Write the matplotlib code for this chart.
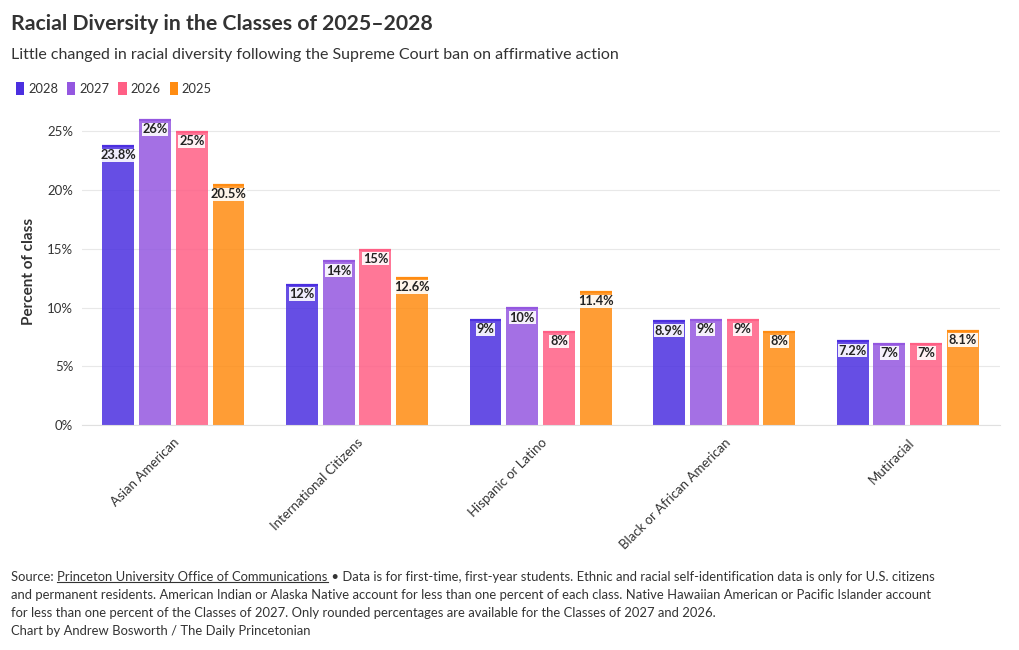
import matplotlib.pyplot as plt
import numpy as np
from matplotlib.patches import Patch
from matplotlib.lines import Line2D

plt.rcParams['font.family'] = ['Lato', 'DejaVu Sans']

categories = ['Asian American', 'International Citizens', 'Hispanic or Latino',
              'Black or African American', 'Mutiracial']
years = ['2028', '2027', '2026', '2025']
values = {
    '2028': [23.8, 12, 9, 8.9, 7.2],
    '2027': [26, 14, 10, 9, 7],
    '2026': [25, 15, 8, 9, 7],
    '2025': [20.5, 12.6, 11.4, 8, 8.1],
}
labels = {
    '2028': ['23.8%', '12%', '9%', '8.9%', '7.2%'],
    '2027': ['26%', '14%', '10%', '9%', '7%'],
    '2026': ['25%', '15%', '8%', '9%', '7%'],
    '2025': ['20.5%', '12.6%', '11.4%', '8%', '8.1%'],
}
colors = {'2028': '#4b2fe0', '2027': '#9457e0', '2026': '#ff5f85', '2025': '#ff8c12'}
yticks = [0, 5, 10, 15, 20, 25]

fig = plt.figure(figsize=(10.2, 6.5), dpi=100)
ax = fig.add_axes([0.08, 0.346, 0.9, 0.474])

x = np.arange(len(categories))
w = 0.174
step = 0.2
for i, yr in enumerate(years):
    pos = x + (i - 1.5) * step
    ax.bar(pos, values[yr], width=w, color=colors[yr], alpha=0.85, zorder=2)
    for p, v, lab in zip(pos, values[yr], labels[yr]):
        # darker cap line on top of the bar
        ax.plot([p - w / 2, p + w / 2], [v - 0.07, v - 0.07], color=colors[yr], lw=1.6,
                solid_capstyle='butt', zorder=3)
        ax.text(p, v - 0.35, lab, ha='center', va='top', fontsize=9.2,
                fontweight='bold', color='#222222', zorder=4,
                bbox=dict(boxstyle='square,pad=0.05', fc='white', ec='none', alpha=0.9))

ax.set_xlim(-0.5, len(categories) - 0.5)
ax.set_ylim(0, 26.2)
ax.set_yticks(yticks)
ax.set_yticklabels([f'{t}%' for t in yticks], fontsize=9.5, color='#333333')
ax.set_xticks(x)
ax.set_xticklabels(categories, rotation=45, ha='right', rotation_mode='anchor',
                   fontsize=9.5, color='#333333')
ax.tick_params(axis='both', length=0, pad=6)
ax.tick_params(axis='x', pad=8)
ax.grid(axis='y', color='#e8e8e8', lw=0.8, zorder=0)
for s in ['top', 'right', 'left']:
    ax.spines[s].set_visible(False)
ax.spines['bottom'].set_color('#e0e0e0')
ax.set_ylabel('Percent of class', fontsize=11, fontweight='bold', color='#333333', labelpad=8)

fig.text(0.011, 0.963, 'Racial Diversity in the Classes of 2025\u20132028', fontsize=15.3,
         fontweight='bold', color='#333333', va='center')
fig.text(0.011, 0.916, 'Little changed in racial diversity following the Supreme Court ban on affirmative action',
         fontsize=11.5, color='#333333', va='center')

handles = [Patch(facecolor=colors[yr], edgecolor='none', label=yr) for yr in years]
fig.legend(handles=handles, loc='center left', bbox_to_anchor=(0.004, 0.864), ncol=4,
           frameon=False, fontsize=9.3, handlelength=0.65, handleheight=1.2,
           handletextpad=0.3, columnspacing=0.7, labelcolor='#333333')

foot = dict(fontsize=9.4, color='#333333', va='center')
t0 = fig.text(0.011, 0.112, 'Source: ', **foot)
fig.canvas.draw()
r = fig.canvas.get_renderer()
bb = t0.get_window_extent(r)
x1 = bb.x1 / fig.bbox.width
t1 = fig.text(x1, 0.112, 'Princeton University Office of Communications', **foot)
bb1 = t1.get_window_extent(r)
x2 = bb1.x1 / fig.bbox.width
yu = (bb1.y0 + 1) / fig.bbox.height
fig.add_artist(Line2D([x1, x2], [yu, yu], transform=fig.transFigure, color='#333333', lw=0.8))
fig.text(x2, 0.112, ' \u2022 Data is for first-time, first-year students. Ethnic and racial self-identification data is only for U.S. citizens',
         **foot)
fig.text(0.011, 0.084, 'and permanent residents. American Indian or Alaska Native account for less than one percent of each class. Native Hawaiian American or Pacific Islander account', **foot)
fig.text(0.011, 0.057, 'for less than one percent of the Classes of 2027. Only rounded percentages are available for the Classes of 2027 and 2026.', **foot)
fig.text(0.011, 0.029, 'Chart by Andrew Bosworth / The Daily Princetonian', **foot)

fig.savefig('out.png', dpi=100)
